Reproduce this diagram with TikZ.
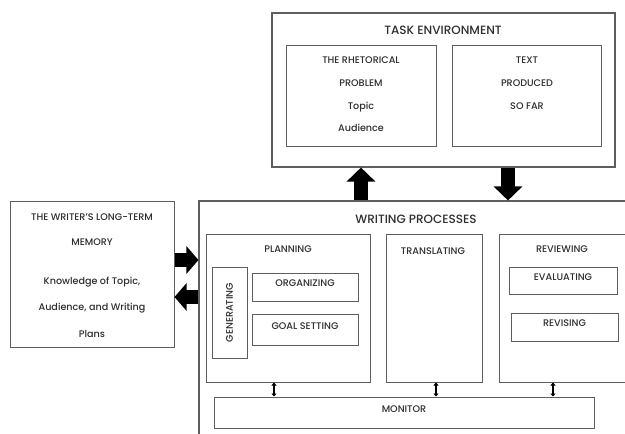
\documentclass[tikz,border=0pt]{standalone}
\usepackage{fontspec}
\setmainfont{Poppins}[UprightFont=* Medium]
\usetikzlibrary{arrows.meta,fit}
\definecolor{edge}{HTML}{5E5E5E}
\definecolor{ink}{HTML}{2E2E2E}
\tikzset{
  box/.style={draw=edge, line width=1pt, inner sep=0pt, text=ink,
    font=\fontsize{9.6}{11}\selectfont},
  outer/.style={box, line width=1.1pt},
  lbl/.style={text=ink, font=\fontsize{9.6}{11}\selectfont, inner sep=0pt, anchor=base},
  ttl/.style={text=ink, font=\fontsize{12}{14}\selectfont, inner sep=0pt, anchor=base},
  bigarrow/.style={line width=14pt, -{Triangle[length=14pt,width=28pt]}, black},
  sidearrow/.style={line width=14pt, -{Triangle[length=12pt,width=27pt]}, black},
  tinyarrow/.style={line width=2.4pt,
    {Triangle[length=3pt,width=5pt]}-{Triangle[length=3pt,width=5pt]}, black},
}
\begin{document}
\begin{tikzpicture}[x=1pt, y=-1pt]
\clip (0,0) rectangle (625,434);
\fill[white] (0,0) rectangle (625,434);

% task environment
\node[outer, fit={(272,13) (615,167)}] (te) {};
\node[ttl] (tetxt) at (443,34.5) {TASK ENVIRONMENT};
\node[box, fit={(286,45) (436,146)}] (rp) {};
\node[lbl] (rp1) at (361,63.5) {THE RHETORICAL};
\node[lbl] (rp2) at (361,86.5) {PROBLEM};
\node[lbl] (rp3) at (361,109.5) {Topic};
\node[lbl] (rp4) at (361,131.5) {Audience};
\node[box, fit={(452,45) (601,146)}] (tp) {};
\node[lbl] (tp1) at (527,63.5) {TEXT};
\node[lbl] (tp2) at (527,86.5) {PRODUCED};
\node[lbl] (tp3) at (527,109.5) {SO FAR};

% long-term memory
\node[box, fit={(10,201) (174,347)}] (mem) {};
\node[lbl] (m1) at (92,220.5) {THE WRITER'S LONG-TERM};
\node[lbl] (m2) at (92,245.5) {MEMORY};
\node[lbl] (m3) at (92,284.5) {Knowledge of Topic,};
\node[lbl] (m4) at (92,310.5) {Audience, and Writing};
\node[lbl] (m5) at (92,337.5) {Plans};

% writing processes
\node[outer, fit={(199,201) (650,460)}] (wp) {};
\node[ttl] (wptxt) at (416,223.5) {WRITING PROCESSES};

\node[box, fit={(206,234) (370,382)}] (plan) {};
\node[lbl] (plantxt) at (288,252.5) {PLANNING};
\node[box, fit={(212,267) (247,358)}] (gen) {};
\node[text=ink, font=\fontsize{9.6}{11}\selectfont, rotate=90, inner sep=0pt] (gentxt) at (gen.center) {GENERATING};
\node[box, fit={(252,273) (358,301)}] (org) {ORGANIZING};
\node[box, fit={(252,314) (358,345)}] (goal) {GOAL SETTING};

\node[box, fit={(386,234) (482,382)}] (trans) {};
\node[lbl] (transtxt) at (433,254.5) {TRANSLATING};

\node[box, fit={(499,234) (650,382)}] (rev) {};
\node[lbl] (revtxt) at (562,252.5) {REVIEWING};
\node[box, fit={(509,267) (617,294)}] (eval) {EVALUATING};
\node[box, fit={(511,313) (618,341)}] (revis) {REVISING};

\node[box, fit={(214,397) (594,428)}] (mon) {MONITOR};

% connectors
\coordinate (upx) at (361,0);
\coordinate (dnx) at (508,0);
\draw[bigarrow] (upx |- wp.north) -- (upx |- te.south);
\draw[bigarrow] (dnx |- te.south) -- (dnx |- wp.north);

\coordinate (ry) at (0,260);
\coordinate (ly) at (0,297);
\draw[sidearrow] (mem.east |- ry) -- (wp.west |- ry);
\draw[sidearrow] (wp.west |- ly) -- (mem.east |- ly);

\coordinate (a1) at (274,0);
\coordinate (a2) at (436,0);
\coordinate (a3) at (553,0);
\draw[tinyarrow] (a1 |- plan.south) -- (a1 |- mon.north);
\draw[tinyarrow] (a2 |- trans.south) -- (a2 |- mon.north);
\draw[tinyarrow] (a3 |- rev.south) -- (a3 |- mon.north);
\end{tikzpicture}
\end{document}
